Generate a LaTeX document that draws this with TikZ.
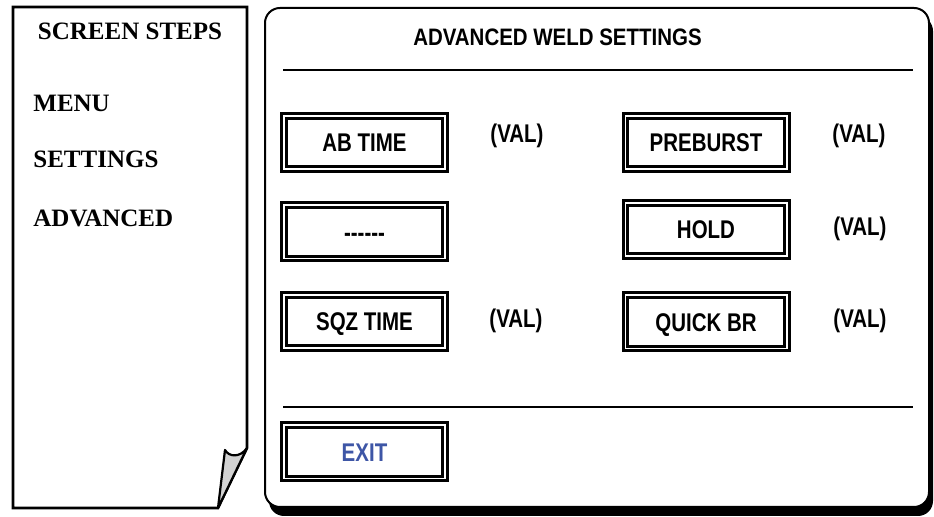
\documentclass[tikz,border=0pt]{standalone}
\usepackage{fontspec}
\setmainfont{Liberation Serif}
\newfontfamily\panelfont[FakeStretch=0.8]{Liberation Sans}
\newfontfamily\titlefont[FakeStretch=0.86]{Liberation Sans}
\definecolor{exitblue}{RGB}{62,86,166}
\definecolor{curlgray}{RGB}{210,210,210}

\begin{document}
\begin{tikzpicture}[x=0.5pt,y=-0.5pt,
                btn/.style = {draw,line width=1.5pt,double,double distance=0.8pt,
                    minimum width=80.7pt,minimum height=26.7pt,inner sep=0pt,
                    text height=9.2pt,text depth=0pt,
                    font=\panelfont\bfseries\fontsize{12.8}{15}\selectfont},
                val/.style = {anchor=base,
                    font=\panelfont\bfseries\fontsize{12.8}{15}\selectfont},
                steptext/.style = {anchor=base west,inner sep=0pt,
                    font=\bfseries\fontsize{12.5}{15}\selectfont}]
                \useasboundingbox (0,0) rectangle (934,517);

                % screen steps sheet
                \draw[line width=1.3pt,fill=white] 
                    (13,7) -- (247,7) -- (247,448) -- (218,508) -- (13,508) -- cycle;
                \draw[line width=1.1pt,fill=curlgray,line join=round] 
                    (247,448) .. controls (240,458) and (229,457) .. (225,450) -- (218,508) -- cycle;
                \node[steptext,anchor=base] (steps) at (130,40) {SCREEN STEPS};
                \node[steptext] (menu) at (33,112) {MENU};
                \node[steptext] (settings) at (33,168) {SETTINGS};
                \node[steptext] (advanced) at (33,227) {ADVANCED};

                % weld settings screen
                \fill[rounded corners=7.5pt] 
                    (269,16) rectangle (933,516);
                \draw[line width=1pt,fill=white,rounded corners=7.5pt] 
                    (265,8) rectangle (929,507);
                \node[font=\titlefont\bfseries\fontsize{11.9}{14}\selectfont] 
                    (title) at (557.5,37) {ADVANCED WELD SETTINGS};
                \draw[line width=1.2pt] (283,70) -- (913,70);
                \draw[line width=1.2pt] (283,407) -- (913,407);

                \node[btn] (abtime) at (364.5,142.5) {AB TIME};
                \node[btn] (blank) at (364.5,232) {------};
                \node[btn] (sqztime) at (364.5,321.5) {SQZ TIME};
                \node[btn,text=exitblue] (exit) at (364.5,452) {EXIT};
                \node[btn] (preburst) at (706,142.5) {PREBURST};
                \node[btn] (hold) at (706,229.5) {HOLD};
                \node[btn] (quickbr) at (706,322) {QUICK BR};

                \node[val] (valab) at (517,143) {(VAL)};
                \node[val] (valsqz) at (516,328) {(VAL)};
                \node[val] (valpre) at (859,143) {(VAL)};
                \node[val] (valhold) at (860,236) {(VAL)};
                \node[val] (valquick) at (860,328) {(VAL)};
            \end{tikzpicture}
\end{document}
